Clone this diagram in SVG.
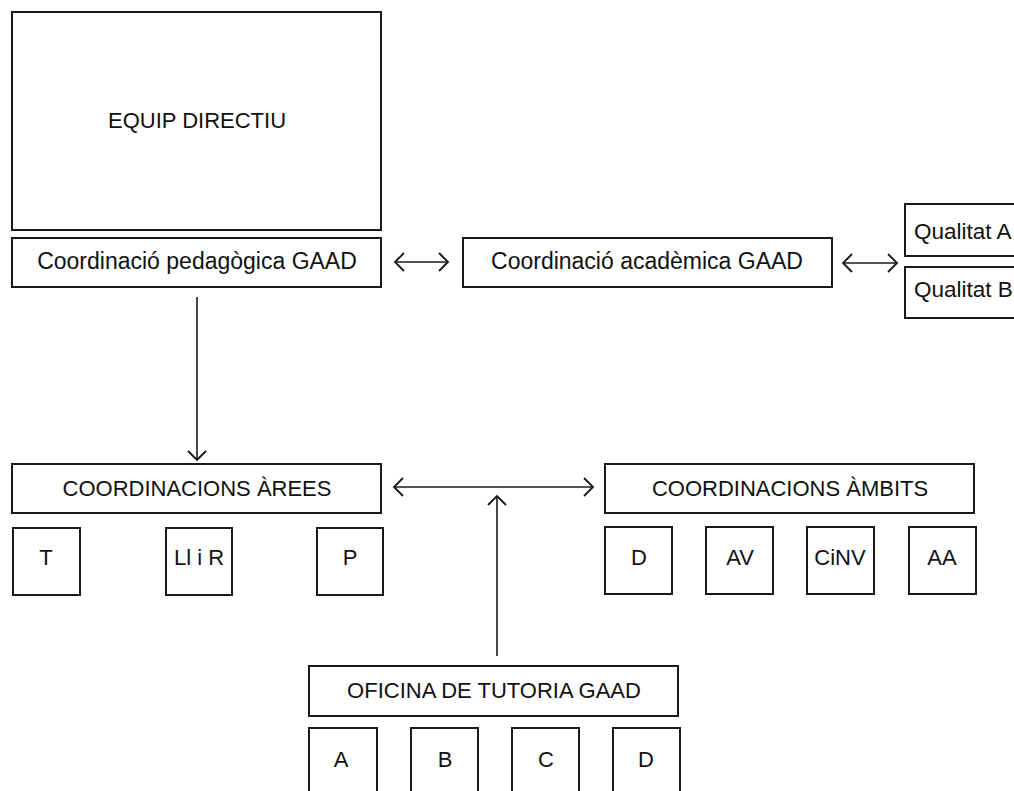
<svg xmlns="http://www.w3.org/2000/svg" width="1014" height="791" viewBox="0 0 1014 791">
<style>
.box{fill:#fff;stroke:#1a1a1a;stroke-width:2}
.t{font-family:"Liberation Sans",Arial,Helvetica,sans-serif;font-size:22px;fill:#111;text-anchor:middle}
.m{font-size:23px}
.ts{font-family:"Liberation Sans",Arial,Helvetica,sans-serif;font-size:22.5px;fill:#111;text-anchor:start}
.c{fill:none;stroke:#1a1a1a;stroke-width:1.6}
</style>
<defs>
<marker id="chev" markerUnits="userSpaceOnUse" markerWidth="14" markerHeight="22" viewBox="-12 -11 14 22" refX="0" refY="0" orient="auto-start-reverse">
<path d="M-9,-9 L0,0 L-9,9" fill="none" stroke="#1a1a1a" stroke-width="1.9"/>
</marker>
</defs>
<rect width="1014" height="791" fill="#fff"/>
<g id="equip-directiu"><rect class="box" x="12" y="12" width="369" height="218"/><text class="t" x="197" y="128">EQUIP DIRECTIU</text></g>
<g id="coord-pedagogica"><rect class="box" x="12" y="238" width="369" height="49"/><text class="t m" x="197" y="269">Coordinació pedagògica GAAD</text></g>
<g id="coord-academica"><rect class="box" x="463" y="238" width="369" height="49"/><text class="t m" x="647" y="269">Coordinació acadèmica GAAD</text></g>
<g id="qualitat-a"><rect class="box" x="905" y="204" width="120" height="52"/><text class="ts" x="914" y="239">Qualitat A</text></g>
<g id="qualitat-b"><rect class="box" x="905" y="267" width="120" height="51"/><text class="ts" x="914" y="297">Qualitat B</text></g>
<g id="coord-arees"><rect class="box" x="12" y="464" width="369" height="49"/><text class="t" x="197" y="496">COORDINACIONS ÀREES</text></g>
<g id="area-t"><rect class="box" x="13" y="528" width="67" height="67"/><text class="t" x="46" y="565">T</text></g>
<g id="area-llir"><rect class="box" x="166" y="528" width="66" height="67"/><text class="t" x="199" y="565">Ll i R</text></g>
<g id="area-p"><rect class="box" x="317" y="528" width="66" height="67"/><text class="t" x="350" y="565">P</text></g>
<g id="coord-ambits"><rect class="box" x="605" y="464" width="369" height="49"/><text class="t" x="790" y="496">COORDINACIONS ÀMBITS</text></g>
<g id="ambit-d"><rect class="box" x="605" y="527" width="67" height="67"/><text class="t" x="639" y="565">D</text></g>
<g id="ambit-av"><rect class="box" x="706" y="527" width="67" height="67"/><text class="t" x="740" y="565">AV</text></g>
<g id="ambit-cinv"><rect class="box" x="807" y="527" width="67" height="67"/><text class="t" x="840" y="565">CiNV</text></g>
<g id="ambit-aa"><rect class="box" x="909" y="527" width="67" height="67"/><text class="t" x="942" y="565">AA</text></g>
<g id="oficina-tutoria"><rect class="box" x="309" y="666" width="369" height="50"/><text class="t" x="494" y="698">OFICINA DE TUTORIA GAAD</text></g>
<g id="tut-a"><rect class="box" x="309" y="728" width="68" height="70"/><text class="t" x="341" y="767">A</text></g>
<g id="tut-b"><rect class="box" x="411" y="728" width="67" height="70"/><text class="t" x="445" y="767">B</text></g>
<g id="tut-c"><rect class="box" x="512" y="728" width="67" height="70"/><text class="t" x="546" y="767">C</text></g>
<g id="tut-d"><rect class="box" x="613" y="728" width="67" height="70"/><text class="t" x="646" y="767">D</text></g>
<g id="connectors">
<line class="c" x1="395" y1="262" x2="448" y2="262" marker-start="url(#chev)" marker-end="url(#chev)"/>
<line class="c" x1="843" y1="263" x2="897" y2="263" marker-start="url(#chev)" marker-end="url(#chev)"/>
<line class="c" x1="197" y1="297" x2="197" y2="460" marker-end="url(#chev)"/>
<line class="c" x1="394" y1="487" x2="593" y2="487" marker-start="url(#chev)" marker-end="url(#chev)"/>
<line class="c" x1="497" y1="656" x2="497" y2="496" marker-end="url(#chev)"/>
</g>
</svg>
